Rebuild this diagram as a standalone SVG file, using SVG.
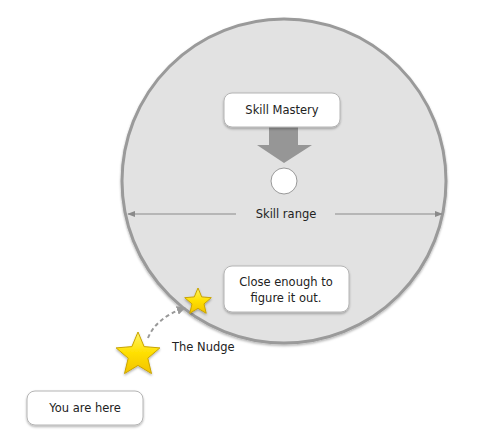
<svg xmlns="http://www.w3.org/2000/svg" width="490" height="441" viewBox="0 0 490 441">
<defs>
<style>
.box{fill:#fff;stroke:#b4b4b4;stroke-width:1;filter:url(#sh)}
.t{font-family:"DejaVu Sans",sans-serif;font-size:11.5px;fill:#222;text-anchor:middle}
.star{stroke:#c9a400;stroke-width:1;filter:url(#sh)}
.rng{stroke:#8a8a8a;stroke-width:1.2;fill:none}
</style>
<filter id="sh" x="-20%" y="-20%" width="140%" height="150%">
<feDropShadow dx="0" dy="1.5" stdDeviation="1.2" flood-color="#000" flood-opacity="0.3"/>
</filter>
<linearGradient id="sg" x1="0" y1="0" x2="0" y2="1">
<stop offset="0" stop-color="#fff36a"/>
<stop offset="0.5" stop-color="#ffe000"/>
<stop offset="1" stop-color="#f2c200"/>
</linearGradient>
<marker id="ah" viewBox="0 0 10 10" refX="9" refY="5" markerWidth="8" markerHeight="8" orient="auto-start-reverse" markerUnits="userSpaceOnUse">
<path d="M0,1 L10,5 L0,9 Z" fill="#8a8a8a"/>
</marker>
<marker id="dh" viewBox="0 0 10 10" refX="8" refY="5" markerWidth="9" markerHeight="9" orient="auto" markerUnits="userSpaceOnUse">
<path d="M0,0 L10,5 L0,10 Z" fill="#999"/>
</marker>
</defs>
<rect width="490" height="441" fill="#fff"/>
<g id="range-circle">
<circle cx="284" cy="181" r="162" fill="#e2e2e2" stroke="#9a9a9a" stroke-width="3" filter="url(#sh)"/>
</g>
<g id="connectors">
<path d="M269,127 H298 V145 H312 L284,163 L257,145 H269 Z" fill="#969696"/>
<line class="rng" x1="236" y1="214" x2="128" y2="214" marker-end="url(#ah)"/>
<line class="rng" x1="335" y1="214" x2="442" y2="214" marker-end="url(#ah)"/>
<path d="M148,338 Q156,318 184,308" fill="none" stroke="#999" stroke-width="2" stroke-dasharray="4,3" marker-end="url(#dh)"/>
</g>
<g id="skill-mastery">
<rect class="box" x="224" y="93" width="116" height="34" rx="8"/>
<text class="t" x="282" y="114">Skill Mastery</text>
</g>
<g id="target">
<circle cx="284" cy="181" r="13" fill="#fff" stroke="#999" stroke-width="1"/>
</g>
<g id="skill-range">
<text class="t" x="286" y="218">Skill range</text>
</g>
<g id="close-enough">
<rect class="box" x="224" y="266" width="125" height="46" rx="8"/>
<text class="t" x="286" y="286">Close enough to</text>
<text class="t" x="286" y="302">figure it out.</text>
</g>
<g id="small-star">
<polygon class="star" fill="url(#sg)" points="198,288 201.7,296.9 211.3,297.7 204,303.9 206.2,313.3 198,308.3 189.8,313.3 192,303.9 184.7,297.7 194.3,296.9"/>
</g>
<g id="big-star">
<polygon class="star" fill="url(#sg)" points="138,332 144.1,346.6 159.9,347.9 147.8,358.2 151.5,373.6 138,365.4 124.5,373.6 128.2,358.2 116.1,347.9 131.9,346.6"/>
</g>
<g id="nudge">
<text class="t" x="172" y="351" style="text-anchor:start">The Nudge</text>
</g>
<g id="you-are-here">
<rect class="box" x="27" y="391" width="116" height="34" rx="8"/>
<text class="t" x="85" y="412">You are here</text>
</g>
</svg>
